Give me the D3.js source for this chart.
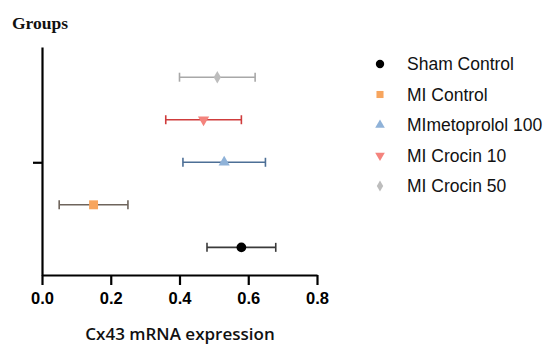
<!DOCTYPE html>
<html><head><meta charset="utf-8">
<script src="https://cdn.jsdelivr.net/npm/d3@7"></script>
<style>body{margin:0;background:#fff}svg{display:block}</style>
</head><body>
<script>
const groups = ["Sham Control", "MI Control", "MImetoprolol 100", "MI Crocin 10", "MI Crocin 50"];
const means = [0.58, 0.15, 0.53, 0.47, 0.51];
const errors = [0.10, 0.10, 0.12, 0.11, 0.11];
const xTicks = [0.0, 0.2, 0.4, 0.6, 0.8];
const markerColors = ["#000000", "#f7a55e", "#8fb2d8", "#f4837d", "#bdbdbd"];
const barColors = ["#3a3a3a", "#6e645c", "#4d6f96", "#cf3c3c", "#a8a8a8"];
const shapes = [d3.symbolCircle, d3.symbolSquare, d3.symbolTriangle, "down", d3.symbolDiamond];

const W = 548, H = 345;
const svg = d3.select("body").append("svg").attr("width", W).attr("height", H);

const x = d3.scaleLinear().domain([0, 0.8]).range([42, 317]);
const y = d3.scaleLinear().domain([-0.65, 4.71]).range([275, 47]);

function sym(s, size) {
  if (s === "down") return d3.symbol(d3.symbolTriangle, size)();
  return d3.symbol(s, size)();
}

// axes
const xAxis = svg.append("g").attr("transform", "translate(0,275)")
  .call(d3.axisBottom(x).tickValues(xTicks).tickFormat(d3.format(".1f")).tickSize(10).tickSizeOuter(0));
xAxis.select(".domain").attr("stroke", "#000").attr("stroke-width", 2.2);
xAxis.selectAll(".tick line").attr("stroke", "#000").attr("stroke-width", 2.2);
xAxis.selectAll(".tick text").attr("dy", 0).attr("y", 29)
  .attr("font-family", "Liberation Sans, Arial, sans-serif").attr("font-weight", "bold")
  .attr("font-size", 16.5).attr("fill", "#000");

const yAxis = svg.append("g").attr("transform", "translate(42,0)")
  .call(d3.axisLeft(y).tickValues([2]).tickFormat("").tickSize(9).tickSizeOuter(0));
yAxis.select(".domain").attr("stroke", "#000").attr("stroke-width", 2.2);
yAxis.selectAll(".tick line").attr("stroke", "#000").attr("stroke-width", 2.2);

// error bars
const rows = svg.append("g").selectAll("g").data(groups).join("g");
rows.append("line")
  .attr("x1", (d, i) => x(means[i] - errors[i])).attr("x2", (d, i) => x(means[i] + errors[i]))
  .attr("y1", (d, i) => y(i)).attr("y2", (d, i) => y(i))
  .attr("stroke", (d, i) => barColors[i]).attr("stroke-width", 1.6);
[-1, 1].forEach(s => {
  rows.append("line")
    .attr("x1", (d, i) => x(means[i] + s * errors[i])).attr("x2", (d, i) => x(means[i] + s * errors[i]))
    .attr("y1", (d, i) => y(i) - 4.5).attr("y2", (d, i) => y(i) + 4.5)
    .attr("stroke", (d, i) => barColors[i]).attr("stroke-width", 1.6);
});
const sizes = [75, 80, 55, 55, 45];
rows.append("path")
  .attr("d", (d, i) => sym(shapes[i], sizes[i]))
  .attr("transform", (d, i) => `translate(${x(means[i])},${y(i)})` + (shapes[i] === "down" ? " rotate(180)" : ""))
  .attr("fill", (d, i) => markerColors[i]);

// legend
const legY = d3.scaleLinear().domain([0, 4]).range([64, 186]);
const leg = svg.append("g").selectAll("g").data(groups).join("g")
  .attr("transform", (d, i) => `translate(380,${legY(i)})`);
const legSizes = [55, 50, 40, 40, 35];
leg.append("path")
  .attr("d", (d, i) => sym(shapes[i], legSizes[i]))
  .attr("transform", (d, i) => shapes[i] === "down" ? "rotate(180)" : null)
  .attr("fill", (d, i) => markerColors[i]);
leg.append("text").attr("x", 27).attr("dy", "0.35em")
  .attr("font-family", "Liberation Sans, Arial, sans-serif").attr("font-size", 17.5)
  .attr("fill", "#111").text(d => d);

// titles
svg.append("text").attr("x", 12).attr("y", 29)
  .attr("font-family", "Liberation Serif, Times New Roman, serif").attr("font-weight", "bold")
  .attr("font-size", 17.5).attr("fill", "#111").text("Groups");
svg.append("text").attr("x", 180).attr("y", 340).attr("text-anchor", "middle")
  .attr("font-family", "Open Sans, sans-serif").attr("font-weight", 600)
  .attr("font-size", 17).attr("fill", "#111").text("Cx43 mRNA expression");
</script>
</body></html>
